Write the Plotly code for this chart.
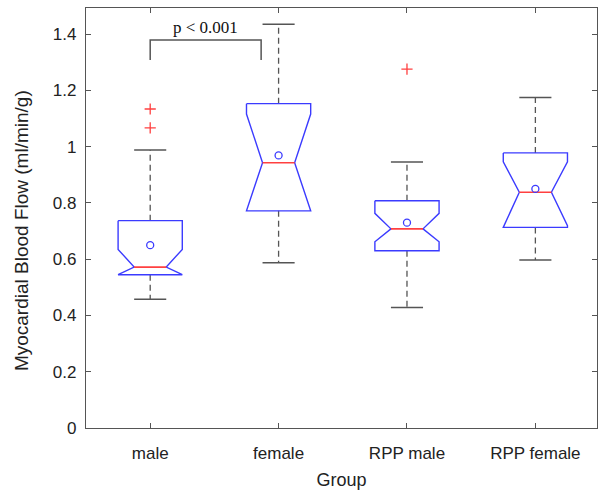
import plotly.graph_objects as go

groups = ["male", "female", "RPP male", "RPP female"]
q1 = [0.545, 0.772, 0.630, 0.713]
median = [0.572, 0.943, 0.708, 0.838]
q3 = [0.737, 1.153, 0.808, 0.978]
notch_lo = [0.545, 0.772, 0.662, 0.719]
notch_hi = [0.635, 1.116, 0.763, 0.946]
mean = [0.650, 0.969, 0.730, 0.850]
whisker_lo = [0.458, 0.587, 0.428, 0.597]
whisker_hi = [0.988, 1.435, 0.946, 1.175]
outlier_group = [1, 1, 3]
outlier_value = [1.134, 1.067, 1.276]

bracket_x = [1, 1, 1.864, 1.864]
bracket_y = [1.308, 1.379, 1.379, 1.308]
p_text = "p < 0.001"
y_title = "Myocardial Blood Flow (ml/min/g)"

BLUE = "#3b3bff"
RED = "#ff4040"
GRAY = "#555555"
W = 0.25
NW = 0.125

fig = go.Figure()
for i in range(len(groups)):
    x = i + 1
    # whiskers
    for a, b in [(q3[i], whisker_hi[i]), (q1[i], whisker_lo[i])]:
        fig.add_trace(go.Scatter(x=[x, x], y=[a, b], mode="lines",
                                 line=dict(color=GRAY, width=1.3, dash="6px,4px"),
                                 hoverinfo="skip", showlegend=False))
    for c in [whisker_hi[i], whisker_lo[i]]:
        fig.add_trace(go.Scatter(x=[x - NW, x + NW], y=[c, c], mode="lines",
                                 line=dict(color=GRAY, width=1.5),
                                 hoverinfo="skip", showlegend=False))
    # notched box
    px = [x - W, x - W, x - NW, x - W, x - W, x + W, x + W, x + NW, x + W, x + W, x - W]
    py = [q3[i], notch_hi[i], median[i], notch_lo[i], q1[i], q1[i], notch_lo[i], median[i], notch_hi[i], q3[i], q3[i]]
    fig.add_trace(go.Scatter(x=px, y=py, mode="lines", line=dict(color=BLUE, width=1.4),
                             hoverinfo="skip", showlegend=False))
    fig.add_trace(go.Scatter(x=[x - NW, x + NW], y=[median[i], median[i]], mode="lines",
                             line=dict(color=RED, width=1.6), hoverinfo="skip", showlegend=False))
    fig.add_trace(go.Scatter(x=[x], y=[mean[i]], mode="markers",
                             marker=dict(symbol="circle-open", size=7, color=BLUE, line=dict(width=1.3)),
                             hoverinfo="skip", showlegend=False))

fig.add_trace(go.Scatter(x=outlier_group, y=outlier_value, mode="markers",
                         marker=dict(symbol="cross-thin", size=8, color=RED, line=dict(width=1.3, color=RED)),
                         hoverinfo="skip", showlegend=False))

fig.add_trace(go.Scatter(x=bracket_x, y=bracket_y, mode="lines",
                         line=dict(color=GRAY, width=1.5), hoverinfo="skip", showlegend=False))
fig.add_annotation(x=(bracket_x[0] + bracket_x[2]) / 2, y=bracket_y[1], text=p_text,
                   showarrow=False, yanchor="bottom", yshift=1,
                   font=dict(family="Liberation Serif", size=17, color="#111"))
fig.add_annotation(xref="paper", yref="paper", x=-0.127, y=0.469, text=y_title,
                   textangle=-90, showarrow=False, xanchor="center", yanchor="middle",
                   font=dict(family="Liberation Sans", size=19, color="#222"))

axis_common = dict(showline=True, linecolor="#555", linewidth=1.3, mirror="ticks",
                   ticks="inside", ticklen=5, tickcolor="#555", showgrid=False, zeroline=False,
                   tickfont=dict(family="Liberation Sans", size=17, color="#222"))
fig.update_xaxes(range=[0.5, 4.48], tickvals=[1, 2, 3, 4], ticktext=groups,
                 ticklabelstandoff=9,
                 title=dict(text="Group", font=dict(family="Liberation Sans", size=18, color="#222"), standoff=11),
                 **axis_common)
fig.update_yaxes(range=[0, 1.493], tickvals=[0, 0.2, 0.4, 0.6, 0.8, 1.0, 1.2, 1.4],
                 ticktext=["0", "0.2", "0.4", "0.6", "0.8", "1", "1.2", "1.4"],
                 ticklabelstandoff=5,
                 **axis_common)
fig.update_layout(width=598, height=493, margin=dict(l=86, r=1, t=8, b=65, autoexpand=False),
                  plot_bgcolor="white", paper_bgcolor="white")
fig.write_html("out.html")
